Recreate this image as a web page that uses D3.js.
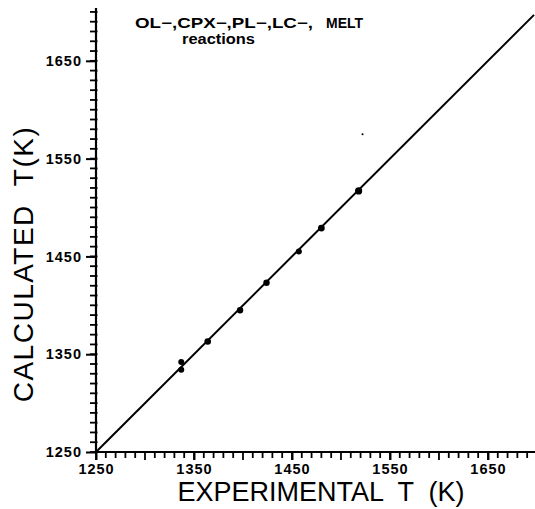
<!DOCTYPE html>
<html>
<head>
<meta charset="utf-8">
<script src="https://cdn.jsdelivr.net/npm/d3@7"></script>
<style>
html,body{margin:0;padding:0;background:#fff;}
svg{display:block;}
</style>
</head>
<body>
<svg id="chart" width="535" height="509"></svg>
<script>
// Data
const experimentalT = [1337, 1337, 1364, 1397, 1424, 1457, 1480, 1518, 1522];
const calculatedT   = [1342, 1334, 1363, 1395, 1423, 1455, 1479, 1517, 1575];
const pointSize     = [3, 3, 3.3, 3.2, 3.2, 3, 3.4, 3.6, 1];
const xTickValues = [1250, 1350, 1450, 1550, 1650];
const yTickValues = [1250, 1350, 1450, 1550, 1650];
const fitLine = [1250, 1697];
const titlePart1 = "OL\u2212,CPX\u2212,PL\u2212,LC\u2212,";
const titlePart2 = "MELT";
const titleLine2 = "reactions";
const xLabel = "EXPERIMENTAL  T  (K)";
const yLabel = "CALCULATED  T(K)";

const svg = d3.select("#chart");
const x = d3.scaleLinear().domain([1250, 1698]).range([96, 535]);
const y = d3.scaleLinear().domain([1250, 1703]).range([452, 9]);

const fontTick = "'Liberation Sans', Arial, sans-serif";

// X axis
const xMinor = d3.range(1250, 1700, 10);
const gx = svg.append("g").attr("transform", `translate(0,${y(1250)})`);
gx.append("line").attr("x1", x(1250)).attr("x2", 535).attr("stroke", "#000").attr("stroke-width", 2.2);
gx.selectAll("line.minor").data(xMinor).join("line").attr("class", "minor")
  .attr("x1", d => x(d)).attr("x2", d => x(d)).attr("y1", 0)
  .attr("y2", d => (d - 1250) % 50 === 0 ? 8 : 6)
  .attr("stroke", "#000").attr("stroke-width", 1.8);
const xAxis = d3.axisBottom(x).tickValues(xTickValues).tickSize(8).tickPadding(4).tickFormat(d3.format("d"));
const gxa = svg.append("g").attr("transform", `translate(0,${y(1250)})`).call(xAxis);
gxa.select(".domain").remove();
gxa.selectAll(".tick line").attr("stroke-width", 2);
gxa.selectAll(".tick text").attr("font-family", fontTick).attr("font-weight", "bold")
  .attr("font-size", 14.5).attr("letter-spacing", 1).attr("fill", "#000");

// Y axis
const yMinor = d3.range(1250, 1705, 10);
const gy = svg.append("g").attr("transform", `translate(${x(1250)},0)`);
gy.append("line").attr("y1", y(1250)).attr("y2", 8).attr("stroke", "#000").attr("stroke-width", 2.2);
gy.selectAll("line.minor").data(yMinor).join("line").attr("class", "minor")
  .attr("y1", d => y(d)).attr("y2", d => y(d)).attr("x1", 1.5).attr("x2", -6)
  .attr("stroke", "#000").attr("stroke-width", 1.8);
const yAxis = d3.axisLeft(y).tickValues(yTickValues).tickSize(10).tickPadding(4).tickFormat(d3.format("d"));
const gya = svg.append("g").attr("transform", `translate(${x(1250)},0)`).call(yAxis);
gya.select(".domain").remove();
gya.selectAll(".tick line").attr("stroke-width", 2);
gya.selectAll(".tick text").attr("font-family", fontTick).attr("font-weight", "bold")
  .attr("font-size", 14.5).attr("letter-spacing", 1).attr("fill", "#000");

// 1:1 line
svg.append("line")
  .attr("x1", x(fitLine[0])).attr("y1", y(fitLine[0]))
  .attr("x2", x(fitLine[1])).attr("y2", y(fitLine[1]))
  .attr("stroke", "#000").attr("stroke-width", 2);

// Points
svg.selectAll("circle.pt").data(experimentalT.map((d, i) => ({ex: d, ca: calculatedT[i], r: pointSize[i]})))
  .join("circle").attr("class", "pt")
  .attr("cx", d => x(d.ex)).attr("cy", d => y(d.ca)).attr("r", d => d.r).attr("fill", "#000");

// Title
svg.append("text").attr("x", 135).attr("y", 28)
  .attr("font-family", fontTick).attr("font-weight", "bold").attr("font-size", 14)
  .attr("textLength", 178).attr("lengthAdjust", "spacingAndGlyphs").text(titlePart1);
svg.append("text").attr("x", 326).attr("y", 28)
  .attr("font-family", fontTick).attr("font-weight", "bold").attr("font-size", 14)
  .attr("textLength", 37).attr("lengthAdjust", "spacingAndGlyphs").text(titlePart2);
svg.append("text").attr("x", 182).attr("y", 44)
  .attr("font-family", fontTick).attr("font-weight", "bold").attr("font-size", 14)
  .attr("textLength", 73).attr("lengthAdjust", "spacingAndGlyphs").text(titleLine2);

// Axis labels
svg.append("text").attr("x", 321).attr("y", 501).attr("text-anchor", "middle")
  .attr("font-family", fontTick).attr("font-size", 27).style("white-space", "pre")
  .text(xLabel);
svg.append("text").attr("transform", "translate(33,264) rotate(-90)").attr("text-anchor", "middle")
  .attr("font-family", fontTick).attr("font-size", 28).attr("letter-spacing", 1.5).style("white-space", "pre")
  .text(yLabel);
</script>
</body>
</html>
